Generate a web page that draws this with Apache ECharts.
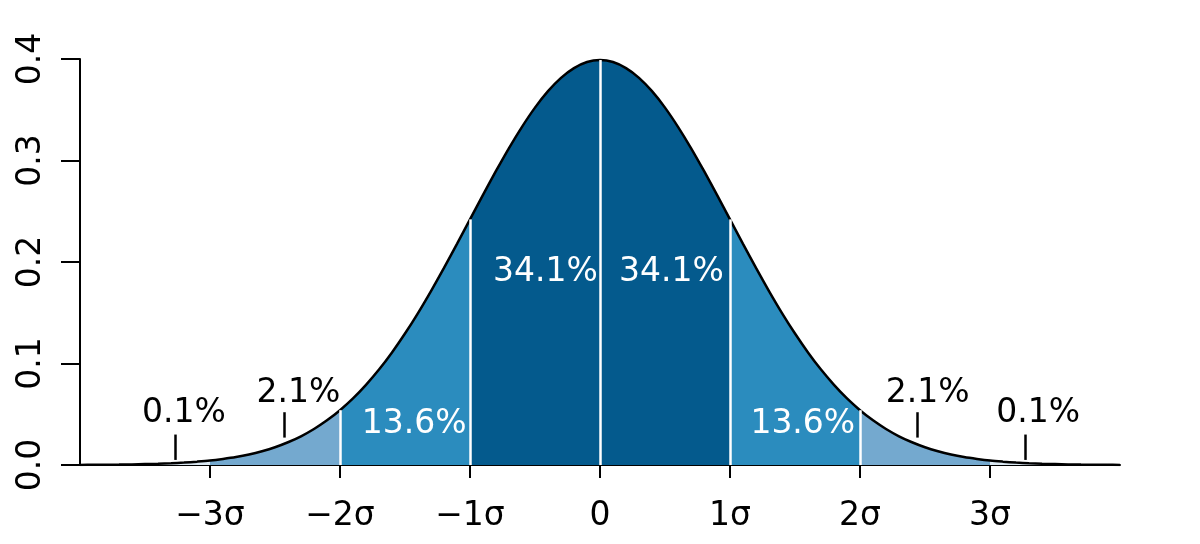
<!DOCTYPE html>
<html>
<head>
<meta charset="utf-8">
<script src="https://cdn.jsdelivr.net/npm/echarts@6/dist/echarts.min.js"></script>
<style>
  html, body { margin: 0; padding: 0; background: #fff; }
  #chart { width: 1200px; height: 544px; }
</style>
</head>
<body>
<div id="chart"></div>
<script>
// x positions (in sigma) and density
const xs = [-4, -3.9, -3.8, -3.7, -3.6, -3.5, -3.4, -3.3, -3.2, -3.1, -3, -2.9, -2.8, -2.7, -2.6, -2.5, -2.4, -2.3, -2.2, -2.1,
  -2, -1.9, -1.8, -1.7, -1.6, -1.5, -1.4, -1.3, -1.2, -1.1, -1, -0.9, -0.8, -0.7, -0.6, -0.5, -0.4, -0.3, -0.2, -0.1,
  0, 0.1, 0.2, 0.3, 0.4, 0.5, 0.6, 0.7, 0.8, 0.9, 1, 1.1, 1.2, 1.3, 1.4, 1.5, 1.6, 1.7, 1.8, 1.9,
  2, 2.1, 2.2, 2.3, 2.4, 2.5, 2.6, 2.7, 2.8, 2.9, 3, 3.1, 3.2, 3.3, 3.4, 3.5, 3.6, 3.7, 3.8, 3.9, 4]
const density = [0.0001, 0.0002, 0.0003, 0.0004, 0.0006, 0.0009, 0.0012, 0.0017, 0.0024, 0.0033,
  0.0044, 0.0060, 0.0079, 0.0104, 0.0136, 0.0175, 0.0224, 0.0283, 0.0355, 0.0440,
  0.0540, 0.0656, 0.0790, 0.0940, 0.1109, 0.1295, 0.1497, 0.1714, 0.1942, 0.2179,
  0.2420, 0.2661, 0.2897, 0.3123, 0.3332, 0.3521, 0.3683, 0.3814, 0.3910, 0.3970,
  0.3989, 0.3970, 0.3910, 0.3814, 0.3683, 0.3521, 0.3332, 0.3123, 0.2897, 0.2661,
  0.2420, 0.2179, 0.1942, 0.1714, 0.1497, 0.1295, 0.1109, 0.0940, 0.0790, 0.0656,
  0.0540, 0.0440, 0.0355, 0.0283, 0.0224, 0.0175, 0.0136, 0.0104, 0.0079, 0.0060,
  0.0044, 0.0033, 0.0024, 0.0017, 0.0012, 0.0009, 0.0006, 0.0004, 0.0003, 0.0002, 0.0001]

// shaded bands between sigma boundaries
const bandEdges = [-4, -3, -2, -1, 0, 1, 2, 3, 4]
const bandColors = ['#dbe9f3', '#74a9cf', '#2b8cbe', '#045a8d', '#045a8d', '#2b8cbe', '#74a9cf', '#dbe9f3']
const dividerAt = [-2, -1, 0, 1, 2]

// tick labels
const xTickValues = [-3, -2, -1, 0, 1, 2, 3]
const xTickLabels = ['−3σ', '−2σ', '−1σ', '0', '1σ', '2σ', '3σ']
const yTickLabels = ['0.0', '0.1', '0.2', '0.3', '0.4']

// percentage labels: [x, y, text]
const innerLabels = [[-0.42, 0.19, '34.1%'], [0.55, 0.19, '34.1%'], [-1.43, 0.04, '13.6%'], [1.56, 0.04, '13.6%']]
const outerLabels = [[-3.2, 0.051, '0.1%'], [-2.32, 0.071, '2.1%'], [2.52, 0.071, '2.1%'], [3.37, 0.051, '0.1%']]
// pointer marks: [x, yFrom, yTo]
const pointerMarks = [[-3.27, 0.005, 0.03], [-2.43, 0.027, 0.052], [2.44, 0.027, 0.052], [3.27, 0.005, 0.03]]

const FONT = 'DejaVu Sans'
const points = xs.map((x, i) => [x, density[i]])
const densityAt = (x) => density[xs.indexOf(x)]

const series = []

// 区间填充
bandColors.forEach((color, i) => {
  const a = bandEdges[i]
  const b = bandEdges[i + 1]
  series.push({
    type: 'line',
    smooth: 0.3,
    showSymbol: false,
    silent: true,
    z: 1,
    lineStyle: { width: 0 },
    areaStyle: { color: color, opacity: 1 },
    data: points.filter((p) => p[0] >= a - 1e-9 && p[0] <= b + 1e-9),
  })
})

// 白色分隔线
series.push({
  type: 'line',
  showSymbol: false,
  silent: true,
  z: 2,
  lineStyle: { width: 0 },
  data: [[0, 0]],
  markLine: {
    silent: true,
    symbol: ['none', 'none'],
    label: { show: false },
    lineStyle: { color: '#ffffff', width: 2.5, type: 'solid', opacity: 1 },
    data: dividerAt.map((x) => [{ coord: [x, 0] }, { coord: [x, densityAt(x)] }]),
  },
})

// 曲线
series.push({
  type: 'line',
  smooth: 0.3,
  showSymbol: false,
  silent: true,
  z: 3,
  lineStyle: { color: '#000', width: 2.5 },
  data: points,
})

// 指示短线
series.push({
  type: 'line',
  showSymbol: false,
  silent: true,
  z: 4,
  lineStyle: { width: 0 },
  data: [[0, 0]],
  markLine: {
    silent: true,
    symbol: ['none', 'none'],
    label: { show: false },
    lineStyle: { color: '#000', width: 2.5, type: 'solid', opacity: 1 },
    data: pointerMarks.map((m) => [{ coord: [m[0], m[1]] }, { coord: [m[0], m[2]] }]),
  },
})

const labelSeries = (data, color) => ({
  type: 'scatter',
  symbolSize: 0,
  silent: true,
  z: 5,
  itemStyle: { opacity: 1 },
  data: data,
  label: {
    show: true,
    position: 'inside',
    formatter: (p) => p.value[2],
    color: color,
    opacity: 1,
    textBorderWidth: 0,
    fontFamily: FONT,
    fontSize: 33,
  },
})
series.push(labelSeries(innerLabels, '#ffffff'))
series.push(labelSeries(outerLabels, '#000000'))

const option = {
  animation: false,
  backgroundColor: '#ffffff',
  grid: { left: 80, right: 80, top: 59, bottom: 79, outerBoundsMode: 'none' },
  xAxis: {
    type: 'value',
    min: -4,
    max: 4,
    interval: 1,
    splitLine: { show: false },
    axisLine: { show: true, onZero: false, lineStyle: { color: '#000', width: 2 } },
    axisTick: { show: true, length: 13, customValues: xTickValues, lineStyle: { color: '#000', width: 2 } },
    axisLabel: {
      customValues: xTickValues,
      formatter: (v) => xTickLabels[xTickValues.indexOf(Math.round(v))],
      color: '#000',
      fontFamily: FONT,
      fontSize: 33,
      margin: 35,
    },
  },
  yAxis: {
    type: 'value',
    min: 0,
    max: 0.4,
    interval: 0.1,
    splitLine: { show: false },
    axisLine: { show: true, onZero: false, lineStyle: { color: '#000', width: 2 } },
    axisTick: { show: true, length: 19, lineStyle: { color: '#000', width: 2 } },
    axisLabel: {
      rotate: 90,
      formatter: (v) => yTickLabels[Math.round(v * 10)],
      color: '#000',
      fontFamily: FONT,
      fontSize: 33,
      margin: 32,
    },
  },
  series: series,
}

const chart = echarts.init(document.getElementById('chart'))
chart.setOption(option)
</script>
</body>
</html>
